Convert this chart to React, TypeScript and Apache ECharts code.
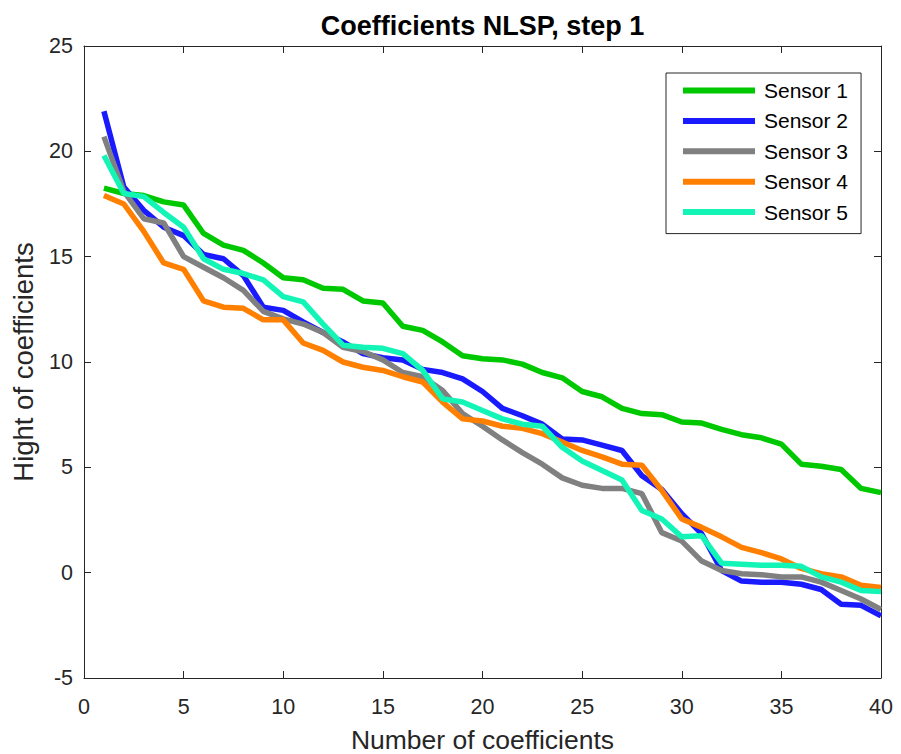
import React, { useEffect, useRef } from "react";
import * as echarts from "echarts";

const xs = [1, 2, 3, 4, 5, 6, 7, 8, 9, 10, 11, 12, 13, 14, 15, 16, 17, 18, 19, 20, 21, 22, 23, 24, 25, 26, 27, 28, 29, 30, 31, 32, 33, 34, 35, 36, 37, 38, 39, 40];

const sensor1 = [18.25, 18.0, 17.9, 17.6, 17.45, 16.1, 15.55, 15.3, 14.7, 14.0, 13.9, 13.5, 13.45, 12.9, 12.8, 11.7, 11.5, 10.95, 10.3, 10.15, 10.1, 9.9, 9.5, 9.25, 8.6, 8.35, 7.8, 7.55, 7.5, 7.15, 7.1, 6.8, 6.55, 6.4, 6.1, 5.15, 5.05, 4.9, 4.0, 3.8];
const sensor2 = [21.9, 18.3, 17.2, 16.4, 16.0, 15.1, 14.9, 14.1, 12.6, 12.45, 11.9, 11.4, 10.95, 10.4, 10.2, 10.1, 9.65, 9.5, 9.2, 8.6, 7.8, 7.45, 7.05, 6.35, 6.3, 6.05, 5.8, 4.6, 3.95, 2.8, 1.85, 0.1, -0.4, -0.45, -0.45, -0.55, -0.8, -1.5, -1.55, -2.05];
const sensor3 = [20.7, 18.1, 16.8, 16.6, 15.0, 14.5, 14.0, 13.4, 12.4, 12.05, 11.8, 11.4, 10.7, 10.5, 10.1, 9.5, 9.3, 8.65, 7.55, 6.95, 6.3, 5.7, 5.15, 4.5, 4.15, 4.0, 4.0, 3.75, 1.9, 1.5, 0.55, 0.1, -0.05, -0.1, -0.2, -0.2, -0.45, -0.85, -1.25, -1.75];
const sensor4 = [17.9, 17.5, 16.2, 14.7, 14.4, 12.9, 12.6, 12.55, 12.0, 12.0, 10.9, 10.55, 10.0, 9.75, 9.6, 9.3, 9.05, 8.1, 7.3, 7.2, 6.95, 6.85, 6.6, 6.2, 5.8, 5.5, 5.15, 5.1, 3.9, 2.55, 2.15, 1.7, 1.2, 0.95, 0.65, 0.2, -0.05, -0.2, -0.6, -0.7];
const sensor5 = [19.8, 18.0, 17.85, 17.1, 16.4, 14.9, 14.4, 14.2, 13.9, 13.1, 12.85, 11.8, 10.8, 10.7, 10.65, 10.4, 9.6, 8.25, 8.1, 7.7, 7.3, 7.05, 6.95, 5.95, 5.3, 4.85, 4.4, 2.95, 2.55, 1.7, 1.75, 0.45, 0.4, 0.35, 0.35, 0.3, -0.2, -0.45, -0.85, -0.9];

const seriesNames = ["Sensor 1", "Sensor 2", "Sensor 3", "Sensor 4", "Sensor 5"];
const seriesValues = [sensor1, sensor2, sensor3, sensor4, sensor5];
const seriesColors = ["#00C800", "#1A1AFF", "#808080", "#FF8000", "#12F5B6"];

const titleText = "Coefficients NLSP, step 1";
const xName = "Number of coefficients";
const yName = "Hight of coefficients";

const FONT = "'Liberation Sans', Arial, Helvetica, sans-serif";
const AXIS_COLOR = "#262626";

export default function App() {
  const ref = useRef<HTMLDivElement>(null);

  useEffect(() => {
    document.body.style.margin = "0";
    if (!ref.current) return;
    const chart = echarts.init(ref.current, undefined, { renderer: "svg" });

    const gridLeft = 84;
    const gridRight = 20;
    const gridTop = 46;
    const gridBottom = 76;

    const commonAxisLine = { show: true, lineStyle: { color: AXIS_COLOR, width: 1 } };
    const commonTick = { show: true, inside: true, length: 7, lineStyle: { color: AXIS_COLOR, width: 1 } };

    const option: any = {
      animation: false,
      backgroundColor: "#ffffff",
      grid: {
        left: gridLeft,
        right: gridRight,
        top: gridTop,
        bottom: gridBottom,
        containLabel: false,
        outerBoundsMode: "none",
      },
      graphic: [
        {
          type: "text",
          x: gridLeft + (901 - gridLeft - gridRight) / 2,
          y: 26,
          style: {
            text: titleText,
            fontFamily: FONT,
            fontSize: 27,
            fontWeight: "bold",
            fill: "#000000",
            textAlign: "center",
            textVerticalAlign: "middle",
          },
        },
      ],
      legend: {
        orient: "vertical",
        left: 666,
        top: 73,
        padding: [7, 13, 11, 17],
        itemGap: 9.4,
        itemWidth: 72,
        itemHeight: 6,
        icon: "rect",
        borderColor: AXIS_COLOR,
        borderWidth: 1,
        backgroundColor: "#ffffff",
        data: seriesNames,
        textStyle: { fontFamily: FONT, fontSize: 21, color: "#000000", padding: [0, 0, 0, 4] },
      },
      xAxis: [
        {
          type: "value",
          min: 0,
          max: 40,
          interval: 5,
          position: "bottom",
          name: xName,
          nameLocation: "middle",
          nameGap: 49,
          nameTextStyle: { fontFamily: FONT, fontSize: 26.5, lineHeight: 26, color: AXIS_COLOR },
          axisLine: { ...commonAxisLine, onZero: false },
          axisTick: commonTick,
          axisLabel: { fontFamily: FONT, fontSize: 21.5, color: AXIS_COLOR, margin: 18 },
          splitLine: { show: false },
        },
        {
          type: "value",
          min: 0,
          max: 40,
          interval: 5,
          position: "top",
          axisLine: { ...commonAxisLine, onZero: false },
          axisTick: commonTick,
          axisLabel: { show: false },
          splitLine: { show: false },
        },
      ],
      yAxis: [
        {
          type: "value",
          min: -5,
          max: 25,
          interval: 5,
          position: "left",
          name: yName,
          nameLocation: "middle",
          nameGap: 47,
          nameTextStyle: { fontFamily: FONT, fontSize: 27.5, color: AXIS_COLOR },
          axisLine: { ...commonAxisLine, onZero: false },
          axisTick: commonTick,
          axisLabel: { fontFamily: FONT, fontSize: 21.5, color: AXIS_COLOR, margin: 11 },
          splitLine: { show: false },
        },
        {
          type: "value",
          min: -5,
          max: 25,
          interval: 5,
          position: "right",
          axisLine: { ...commonAxisLine, onZero: false },
          axisTick: commonTick,
          axisLabel: { show: false },
          splitLine: { show: false },
        },
      ],
      series: seriesNames.map((name, i) => ({
        name,
        type: "line",
        xAxisIndex: 0,
        yAxisIndex: 0,
        symbol: "none",
        color: seriesColors[i],
        lineStyle: { color: seriesColors[i], width: 5.5 },
        data: xs.map((x, j) => [x, seriesValues[i][j]]),
      })),
    };

    chart.setOption(option);
    return () => chart.dispose();
  }, []);

  return <div ref={ref} style={{ width: 901, height: 754 }} />;
}
